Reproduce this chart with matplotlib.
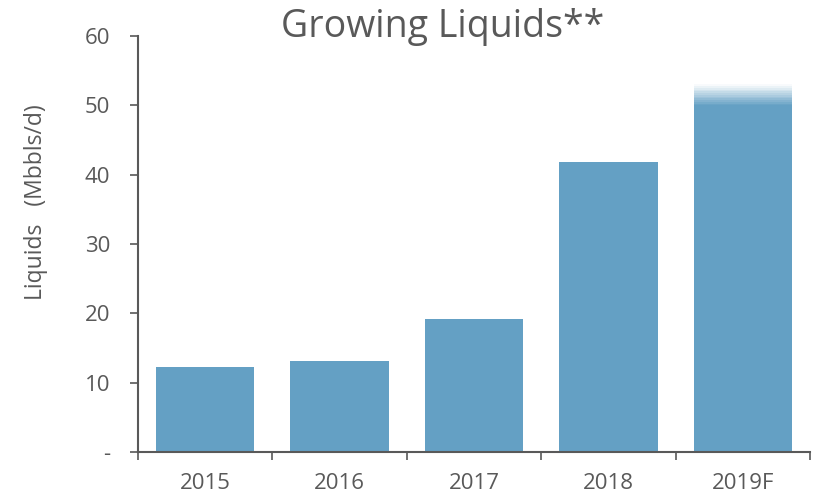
import numpy as np
import matplotlib.pyplot as plt

# values
years = ['2015', '2016', '2017', '2018', '2019F']
liquids = [12.3, 13.1, 19.2, 41.8, 50.0]
# 2019F forecast fades out above the solid part
fade_top = 53.0

bar_color = '#64a0c4'
text_color = '#595959'
axis_color = '#595959'

plt.rcParams['font.family'] = ['Open Sans', 'DejaVu Sans']

fig = plt.figure(figsize=(8.2, 4.98), dpi=100)
ax = fig.add_axes([0.168, 0.092, 0.82, 0.836])

x = np.arange(len(years))
width = 0.73
ax.bar(x, liquids, width=width, color=bar_color, zorder=2)

# fading top on the forecast bar
n = 12
edges = np.linspace(liquids[-1], fade_top, n + 1)
for i in range(n):
    a = 1.0 - (i + 0.5) / n
    ax.bar(x[-1], edges[i + 1] - edges[i], bottom=edges[i], width=width,
           color=bar_color, alpha=a, linewidth=0, zorder=2)

ax.set_xlim(-0.5, len(years) - 0.5)
ax.set_ylim(0, 60)
ax.set_yticks(range(0, 61, 10))
ax.set_yticklabels(['-'] + [str(v) for v in range(10, 61, 10)])

ax.set_xticks(x)
ax.set_xticklabels(years)
ax.set_xticks(np.arange(-0.5, len(years)), minor=True)
ax.tick_params(axis='x', which='major', length=0, pad=15,
               labelsize=16, labelcolor=text_color)
ax.tick_params(axis='x', which='minor', length=6, width=1.2,
               color=axis_color, direction='out')
ax.tick_params(axis='y', length=6, width=1.2, color=axis_color,
               labelsize=16, labelcolor=text_color, pad=14)

for s in ['top', 'right']:
    ax.spines[s].set_visible(False)
for s in ['left', 'bottom']:
    ax.spines[s].set_color(axis_color)
    ax.spines[s].set_linewidth(1.5)

ax.set_ylabel('Liquids   (Mbbls/d)', fontsize=16.5, color=text_color)
ax.yaxis.set_label_coords(-0.133, 0.6)
fig.text(0.54, 0.946, 'Growing Liquids**', ha='center', va='center',
         fontsize=27, color=text_color)

fig.savefig('out.png', dpi=100)
